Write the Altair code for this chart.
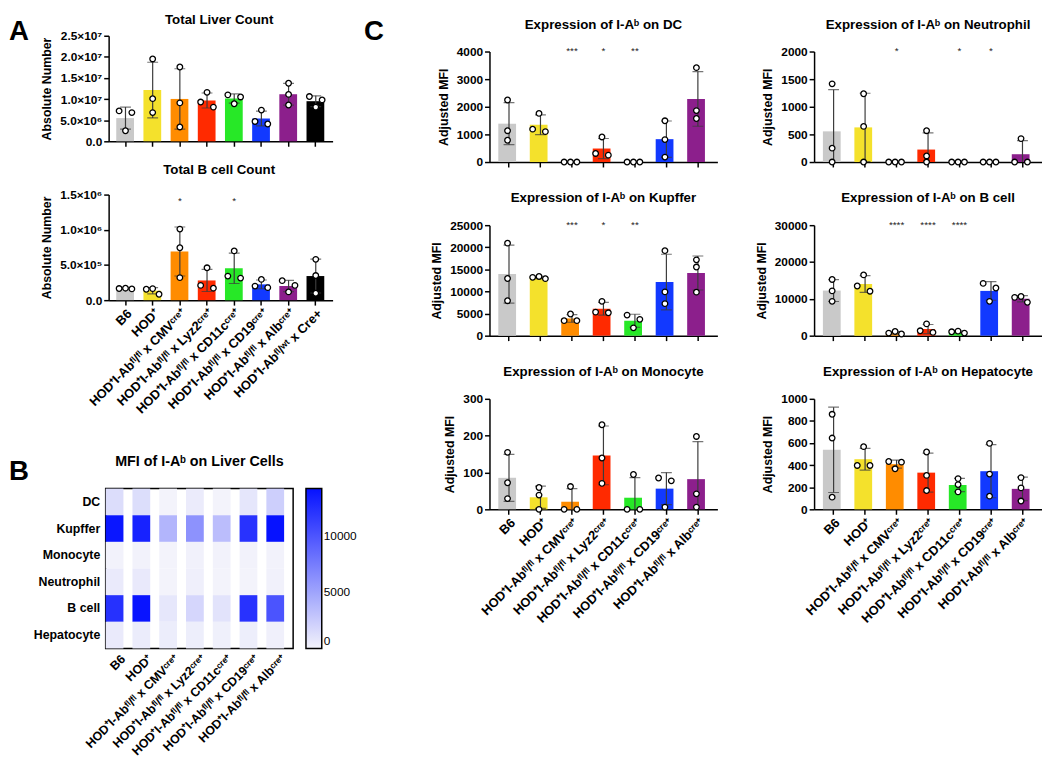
import altair as alt
import pandas as pd

FONT = "Liberation Sans"

# ---------------- categories / colours ----------------
GROUPS_A = ["B6", "HOD⁺", "HOD⁺I-Abᶠˡ/ᶠˡ x CMVᶜʳᵉ⁺", "HOD⁺I-Abᶠˡ/ᶠˡ x Lyz2ᶜʳᵉ⁺",
            "HOD⁺I-Abᶠˡ/ᶠˡ x CD11cᶜʳᵉ⁺", "HOD⁺I-Abᶠˡ/ᶠˡ x CD19ᶜʳᵉ⁺",
            "HOD⁺I-Abᶠˡ/ᶠˡ x Albᶜʳᵉ⁺", "HOD⁺I-Abᶠˡ/ʷᵗ x Cre+"]
GROUPS_C = GROUPS_A[:7]
COLORS = ["#c9c9c9", "#f4e12c", "#ff8c00", "#ff2a00", "#27e827", "#1239ff", "#8c1f8c", "#000000"]

# ---------------- panel A values (3 mice per group) ----------------
liver_count = [[6.8e6, 7.2e6, 2.5e6], [19.5e6, 10.1e6, 6.8e6], [17.6e6, 9.1e6, 3.4e6],
               [11.6e6, 9.3e6, 8.1e6], [11.0e6, 10.5e6, 8.9e6], [7.4e6, 4.1e6, 4.7e6],
               [13.75e6, 11.1e6, 8.6e6], [9.8e6, 10.6e6, 8.1e6]]
bcell_count = [[1.6e5, 1.65e5, 1.7e5], [1.64e5, 1.55e5, 0.84e5], [1.01e6, 0.745e6, 0.32e6],
               [0.46e6, 0.17e6, 0.21e6], [0.70e6, 0.314e6, 0.342e6], [0.295e6, 0.178e6, 0.20e6],
               [0.21e6, 0.277e6, 0.117e6], [0.58e6, 0.35e6, 0.098e6]]
sig_bcount = ["", "", "*", "", "*", "", "", ""]

# ---------------- panel C values ----------------
mfi_dc = [[2245, 1134, 788], [1760, 1100, 1190], [0, 0, 0], [907, 250, 310],
          [0, 0, 0], [1493, 812, 179], [3415, 1863, 1576]]
mfi_neut = [[1415, 251, 0], [1236, 645, 0], [0, 0, 0], [567, 110, 0],
            [0, 0, 0], [0, 0, 0], [424, 0, 0]]
mfi_kup = [[20930, 12940, 7910], [12900, 13400, 13200], [4900, 3400, 3400], [7770, 5180, 5330],
           [4660, 3700, 1775], [19230, 9910, 7250], [17160, 15530, 9840]]
mfi_bcell = [[15260, 12160, 9320], [16500, 13490, 12070], [450, 1150, 700], [3200, 890, 1330],
             [710, 1240, 1060], [14200, 12950, 9320], [10650, 9050, 10400]]
mfi_mono = [[154.8, 72.2, 29.2], [59.3, 38.7, 0], [61.9, 0, 0], [229.6, 139.3, 70.5],
            [94.6, 0, 0], [77.4, 85.1, 6], [197.8, 42.1, 6]]
mfi_hep = [[860, 645, 110], [567, 397, 397], [427, 433, 367], [519, 307, 170],
           [278, 224, 158], [597, 319, 119], [287, 194, 75]]
sig_dc = ["", "", "***", "*", "**", "", ""]
sig_neut = ["", "", "*", "", "*", "*", ""]
sig_kup = ["", "", "***", "*", "**", "", ""]
sig_bcell = ["", "", "****", "****", "****", "", ""]
sig_none = ["", "", "", "", "", "", ""]

CELLS = ["DC", "Kupffer", "Monocyte", "Neutrophil", "B cell", "Hepatocyte"]


def lanes(vals, ymax, thr=0.05):
    """GraphPad-like scatter: spread points that would overlap."""
    n = len(vals)
    idx = sorted(range(n), key=lambda i: -vals[i])
    clusters = []
    for i in idx:
        for c in clusters:
            if any(abs(vals[i] - vals[j]) < thr * ymax for j in c):
                c.append(i)
                break
        else:
            clusters.append([i])
    out = [0] * n
    pattern = {1: [0], 2: [-1, 1], 3: [0, -1, 1]}
    for c in clusters:
        for i, l in zip(c, pattern[len(c)]):
            out[i] = l
    return out


def long_table(groups, values, ymax):
    rows = []
    for g, vals in zip(groups, values):
        for v, l in zip(vals, lanes(vals, ymax)):
            rows.append({"g": g, "v": v, "lane": l})
    return pd.DataFrame(rows)


SCI = ("datum.value == 0 ? '0.0' : format(datum.value / pow(10, floor(log(datum.value)/LN10 + 1e-9)), '.1f')"
       " + '×10' + ['⁰','¹','²','³','⁴','⁵','⁶','⁷','⁸','⁹'][floor(log(datum.value)/LN10 + 1e-9)]")


def letter_layer(letter, xy):
    return alt.Chart(pd.DataFrame({"t": [letter]})).mark_text(
        fontSize=28, fontWeight="bold", font=FONT, baseline="middle", align="center",
        color="black").encode(text="t:N", x=alt.value(xy[0]), y=alt.value(xy[1]))


def bar_panel(title, groups, values, sig, ymax, ystep, ytitle, show_labels, width, height,
              sig_level=None, sci=False, toff=14.5, yrange=None, xrange=None, yoffset=0):
    df = long_table(groups, values, ymax)
    colors = COLORS[:len(groups)]
    xaxis = alt.Axis(labels=show_labels, labelAngle=-45, labelAlign="right",
                     labelBaseline="top", labelFontSize=13, labelFontWeight="bold",
                     labelPadding=2, labelLimit=300, title=None)
    if xrange is None:
        xscale = alt.Scale(paddingInner=0.32, paddingOuter=0.28)
    else:
        xscale = alt.Scale(paddingInner=0.32, paddingOuter=0.28, range=xrange)
    ticks = [ystep * i for i in range(int(round(ymax / ystep)) + 1)]
    kw = dict(values=ticks, title=ytitle, titleFontSize=12.5, titleFontWeight="bold",
              labelFontSize=12, labelFontWeight="bold", titlePadding=6, offset=yoffset)
    if sci:
        kw["labelExpr"] = SCI
    else:
        kw["format"] = "d"
    yaxis = alt.Axis(**kw)
    if yrange is None:
        yscale = alt.Scale(domain=[0, ymax], nice=False)
    else:
        yscale = alt.Scale(domain=[0, ymax], nice=False, range=yrange)

    def X():
        return alt.X("g:N", sort=groups, scale=xscale, axis=xaxis)

    base = alt.Chart(df)
    bars = base.mark_bar().encode(
        x=X(),
        y=alt.Y("mean(v):Q", scale=yscale, axis=yaxis),
        color=alt.Color("g:N", scale=alt.Scale(domain=groups, range=colors), legend=None),
    )
    err = base.mark_errorbar(extent="stdev", color="#3c3c3c", thickness=1.2, clip=True,
                             ticks={"size": 11, "thickness": 1.2}).encode(
        x=X(),
        y=alt.Y("v:Q", scale=yscale, axis=yaxis),
    )
    pts = base.mark_point(shape="circle", size=32, fill="white", fillOpacity=1, stroke="black",
                          strokeWidth=1.3, opacity=1).encode(
        x=X(),
        xOffset=alt.XOffset("lane:Q", scale=alt.Scale(domain=[-1.45, 1.45])),
        y=alt.Y("v:Q", scale=yscale, axis=yaxis),
    )
    sdf = pd.DataFrame({"g": groups, "s": sig,
                        "sy": [sig_level if sig_level is not None else ymax] * len(groups)})
    stars = alt.Chart(sdf).mark_text(fontSize=10, fill="#222222", baseline="middle",
                                     font=FONT).encode(
        x=X(),
        y=alt.Y("sy:Q", scale=yscale, axis=yaxis),
        text="s:N",
    )
    return alt.layer(bars, err, pts, stars).properties(
        width=width, height=height,
        title=alt.TitleParams(title, fontSize=13.5, fontWeight="bold", font=FONT, offset=toff))


# ---------------- panel A ----------------
# the A plots are drawn 16 px above (and 3 px right of) their layout origin
a_top = bar_panel("Total Liver Count", GROUPS_A, liver_count, [""] * 8, 2.5e7, 5e6,
                  "Absolute Number", False, 230, 91, sci=True, toff=3.5, yrange=[91, -16],
                  xrange=[3, 230], yoffset=-3)
a_bot = bar_panel("Total B cell Count", GROUPS_A, bcell_count, sig_bcount, 1.5e6, 5e5,
                  "Absolute Number", True, 230, 107, sig_level=1.41e6, sci=True, toff=12.5,
                  xrange=[3, 230], yoffset=-3)

# ---------------- panel B (heat map of the C means) ----------------
hm_rows = []
for cell, vals in zip(CELLS, [mfi_dc, mfi_kup, mfi_mono, mfi_neut, mfi_bcell, mfi_hep]):
    for g, reps in zip(GROUPS_C, vals):
        for v in reps:
            hm_rows.append({"cell": cell, "g": g, "v": v})
hm_df = pd.DataFrame(hm_rows)
heatmap = alt.Chart(hm_df).mark_rect().encode(
    x=alt.X("g:N", sort=GROUPS_C, title=None,
            axis=alt.Axis(labelAngle=-45, labelAlign="right", labelBaseline="top", ticks=False,
                          domain=False, labelFontSize=12.5, labelFontWeight="bold", labelPadding=4,
                          labelLimit=300)),
    y=alt.Y("cell:N", sort=CELLS, title=None,
            axis=alt.Axis(ticks=False, domain=False, labelFontSize=12.5, labelFontWeight="bold",
                          labelPadding=6)),
    color=alt.Color("mean(v):Q",
                    scale=alt.Scale(range=["#f3f3fb", "#0612ff"], interpolate="rgb", zero=True),
                    legend=alt.Legend(title=None, gradientLength=162, gradientThickness=16,
                                      values=[0, 5000, 10000], labelFontSize=12, format="d",
                                      gradientStrokeColor="black", gradientStrokeWidth=1.5,
                                      offset=13, labelFont=FONT)),
).properties(
    width=190, height=162,
    view=alt.ViewBackground(stroke="black", strokeWidth=1.5),
    title=alt.TitleParams("MFI of I-Aᵇ on Liver Cells", fontSize=14.5, fontWeight="bold",
                          font=FONT, offset=19.5))

# ---------------- panel C ----------------
W, H = 231, 112
c_dc = bar_panel("Expression of I-Aᵇ on DC", GROUPS_C, mfi_dc, sig_dc, 4000, 1000,
                 "Adjusted MFI", False, W, H)
c_neut = bar_panel("Expression of I-Aᵇ on Neutrophil", GROUPS_C, mfi_neut, sig_neut, 2000, 500,
                   "Adjusted MFI", False, W, H)
c_kup = bar_panel("Expression of I-Aᵇ on Kupffer", GROUPS_C, mfi_kup, sig_kup, 25000, 5000,
                  "Adjusted MFI", False, W, H)
c_bcell = bar_panel("Expression of I-Aᵇ on B cell", GROUPS_C, mfi_bcell, sig_bcell, 30000, 10000,
                    "Adjusted MFI", False, W, H)
c_mono = bar_panel("Expression of I-Aᵇ on Monocyte", GROUPS_C, mfi_mono, sig_none, 300, 100,
                   "Adjusted MFI", True, W, H)
c_hep = bar_panel("Expression of I-Aᵇ on Hepatocyte", GROUPS_C, mfi_hep, sig_none, 1000, 200,
                  "Adjusted MFI", True, W, H)

# ---------------- panel letters ----------------
letters_ab = alt.layer(letter_layer("A", (10, -20)), letter_layer("B", (10, 426))).properties(
    width=20, height=430)
letter_c = letter_layer("C", (14, -20)).properties(width=69, height=10)

left = alt.vconcat(alt.vconcat(a_top, a_bot, spacing=6), heatmap, spacing=37)
right = alt.concat(c_dc, c_neut, c_kup, c_bcell, c_mono, c_hep, columns=2,
                   spacing={"row": 24, "column": 38}, align="each")

chart = alt.concat(letters_ab, left, letter_c, right, columns=4, spacing=2, align="none").properties(
    padding={"left": 0, "top": 0, "right": 0, "bottom": 0}
).configure_view(stroke=None).configure_axis(
    domainColor="black", domainWidth=1.5, tickColor="black", tickWidth=1.5, tickSize=5,
    grid=False, labelColor="black", titleColor="black", labelFont=FONT, titleFont=FONT
).configure_title(color="black", anchor="middle").configure_legend(labelColor="black")

chart.save("out.html", embed_options={"renderer": "svg", "actions": False})
